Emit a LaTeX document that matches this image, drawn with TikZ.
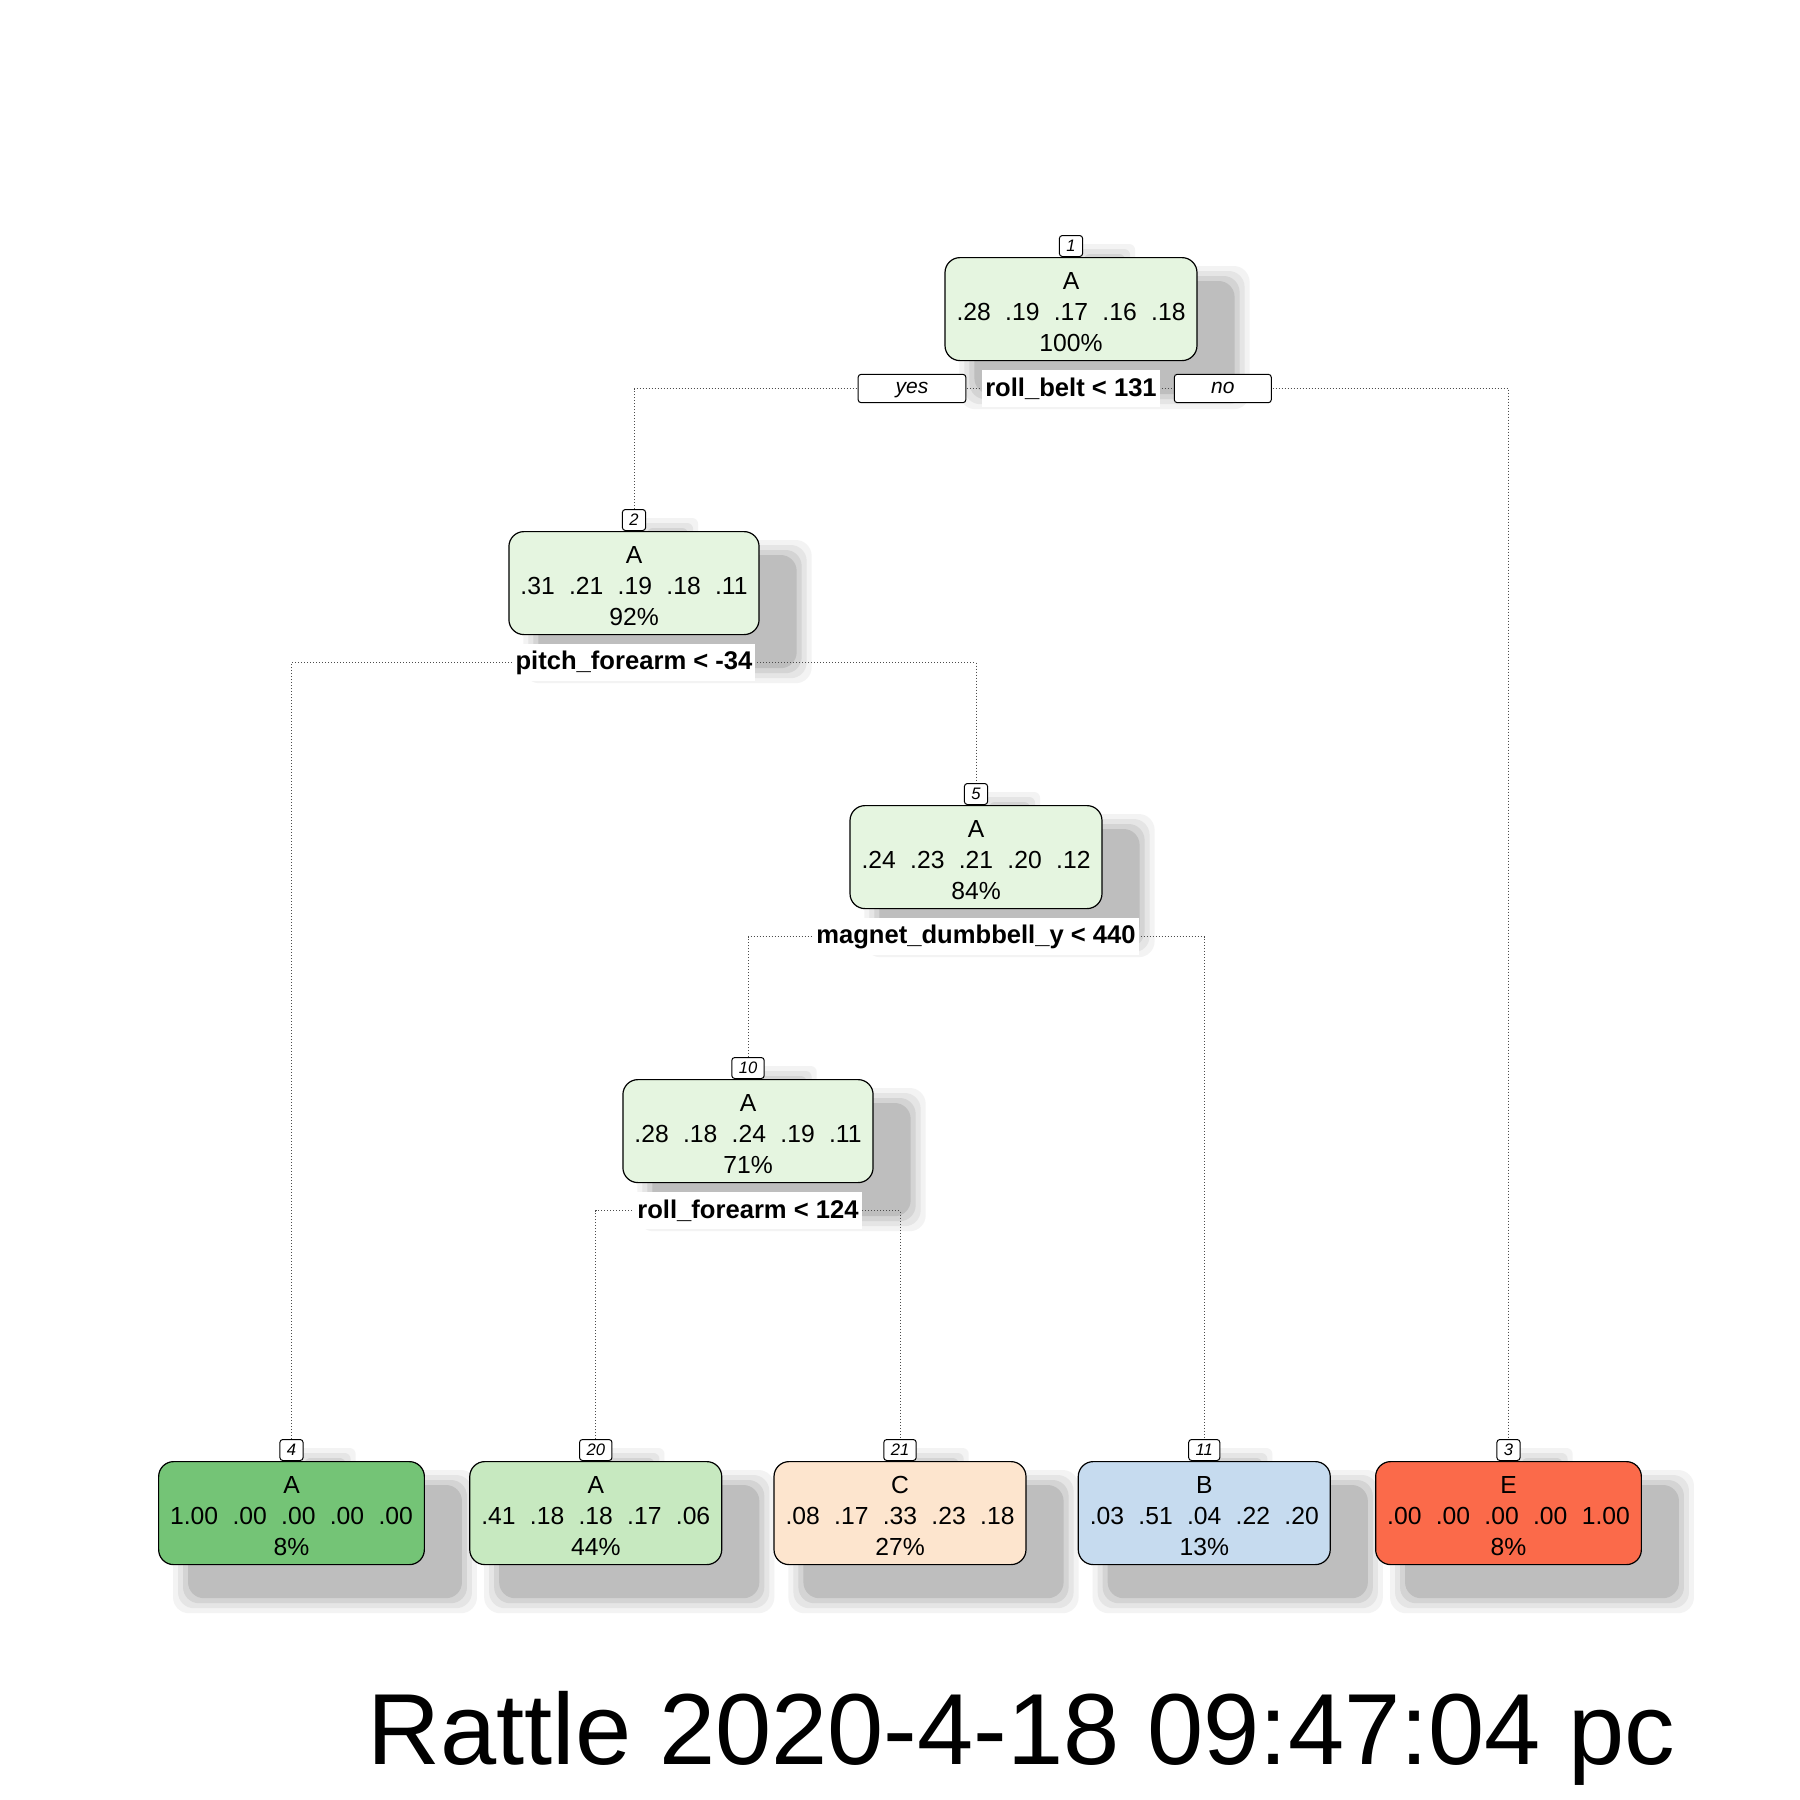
\documentclass[tikz,border=0pt]{standalone}
\usepackage{fontspec}
\setmainfont{Liberation Sans}
\pgfdeclarelayer{bg}
\pgfdeclarelayer{shadow}
\pgfdeclarelayer{lines}
\pgfsetlayers{bg,shadow,lines,main}
\definecolor{nodegreen}{HTML}{E5F5E0}
\definecolor{leafA}{HTML}{74C476}
\definecolor{leafAl}{HTML}{C7E9C0}
\definecolor{leafC}{HTML}{FDE5CE}
\definecolor{leafB}{HTML}{C6DBEF}
\definecolor{leafE}{HTML}{FB6A4A}
\definecolor{shd}{HTML}{BEBEBE}
\definecolor{shda}{HTML}{D4D4D4}
\definecolor{shdb}{HTML}{E5E5E5}
\definecolor{shdc}{HTML}{F3F3F3}
\newcommand\nums[5]{#1\hspace{0.58em}#2\hspace{0.58em}#3\hspace{0.58em}#4\hspace{0.58em}#5}
\newcommand\topstrut{\rule{0pt}{11.4pt}}
\newcommand\dropshadow[2]{%
  \begin{pgfonlayer}{shadow}
    \foreach \e/\c in {15/shdc,10/shdb,5/shda,0/shd}{%
      \fill[\c, rounded corners=#2]
        ([shift={({30-\e},{24-\e})}]#1.north west) rectangle
        ([shift={({37+\e},{33+\e})}]#1.south east);
    }
  \end{pgfonlayer}}
\tikzset{
  tnode/.style={draw=black, line width=0.6pt, rounded corners=7.5pt,
    inner xsep=5.75pt, inner ysep=0pt, minimum height=51.5pt, align=center,
    font=\fontsize{12.35}{15.5}\selectfont, anchor=north},
  idbox/.style={draw=black, fill=white, line width=0.5pt, rounded corners=1.5pt,
    inner xsep=3.5pt, inner ysep=0pt, minimum height=10.5pt,
    font=\fontsize{8.3}{9}\selectfont\itshape, anchor=south},
  splitlab/.style={fill=white, inner xsep=1.5pt, inner ysep=0pt, minimum height=18.3pt,
    font=\fontsize{12.8}{14}\selectfont\bfseries},
  yn/.style={draw=black, fill=white, line width=0.5pt, rounded corners=1.5pt,
    minimum height=14.2pt, inner sep=0pt, text height=6.5pt, text depth=1.5pt,
    font=\fontsize{10.5}{12}\selectfont\itshape},
  tree/.style={draw=black!70, line width=0.5pt, dash pattern=on 0.5pt off 1pt},
}
\begin{document}
\begin{tikzpicture}[x=0.5pt,y=-0.5pt]
\begin{pgfonlayer}{bg}
\fill[white] (0,0) rectangle (1800,1800);
\end{pgfonlayer}
\useasboundingbox (0,0) rectangle (1800,1800);

% internal nodes
\node[tnode, fill=nodegreen] (n1) at (1071,257) {\topstrut A\\\nums{.28}{.19}{.17}{.16}{.18}\\100\%};
\node[tnode, fill=nodegreen] (n2) at (634,531) {\topstrut A\\\nums{.31}{.21}{.19}{.18}{.11}\\92\%};
\node[tnode, fill=nodegreen] (n5) at (976,805) {\topstrut A\\\nums{.24}{.23}{.21}{.20}{.12}\\84\%};
\node[tnode, fill=nodegreen] (n10) at (748,1079) {\topstrut A\\\nums{.28}{.18}{.24}{.19}{.11}\\71\%};
% leaves
\node[tnode, fill=leafA] (n4) at (291.5,1461) {\topstrut A\\\nums{1.00}{.00}{.00}{.00}{.00}\\8\%};
\node[tnode, fill=leafAl] (n20) at (595.75,1461) {\topstrut A\\\nums{.41}{.18}{.18}{.17}{.06}\\44\%};
\node[tnode, fill=leafC] (n21) at (900,1461) {\topstrut C\\\nums{.08}{.17}{.33}{.23}{.18}\\27\%};
\node[tnode, fill=leafB] (n11) at (1204.25,1461) {\topstrut B\\\nums{.03}{.51}{.04}{.22}{.20}\\13\%};
\node[tnode, fill=leafE] (n3) at (1508.5,1461) {\topstrut E\\\nums{.00}{.00}{.00}{.00}{1.00}\\8\%};

% id labels
\foreach \n/\t in {n1/1,n2/2,n5/5,n10/10,n4/4,n20/20,n21/21,n11/11,n3/3}{
  \node[idbox] (id\t) at (\n.north) {\t};
}

% split labels
\node[splitlab] (s1) at (1071,388.5) {roll\_belt < 131};
\node[splitlab] (s2) at (634,662.5) {pitch\_forearm < -34};
\node[splitlab] (s5) at (976,936.5) {magnet\_dumbbell\_y < 440};
\node[splitlab] (s10) at (748,1210.5) {roll\_forearm < 124};

% yes / no
\node[yn, minimum width=53.85pt] (yes) at (912,388.5) {yes};
\node[yn, minimum width=48.5pt] (no) at (1222.8,388.5) {no};

% shadows
\foreach \n in {n1,n2,n5,n10,n4,n20,n21,n11,n3}{\dropshadow{\n}{8pt}}
\foreach \t in {1,2,5,10,4,20,21,11,3}{\dropshadow{id\t}{3pt}}

% connectors
\begin{pgfonlayer}{lines}
\draw[tree] (id2.north) |- (s1.center) -| (id3.north);
\draw[tree] (id4.north) |- (s2.center) -| (id5.north);
\draw[tree] (id10.north) |- (s5.center) -| (id11.north);
\draw[tree] (id20.north) |- (s10.center) -| (id21.north);
\end{pgfonlayer}

% title
\node[font=\fontsize{50.5}{60}\selectfont, anchor=base west, inner sep=0pt] (title)
  at (367,1764) {Rattle 2020-4-18 09:47:04 pc};
\end{tikzpicture}
\end{document}
